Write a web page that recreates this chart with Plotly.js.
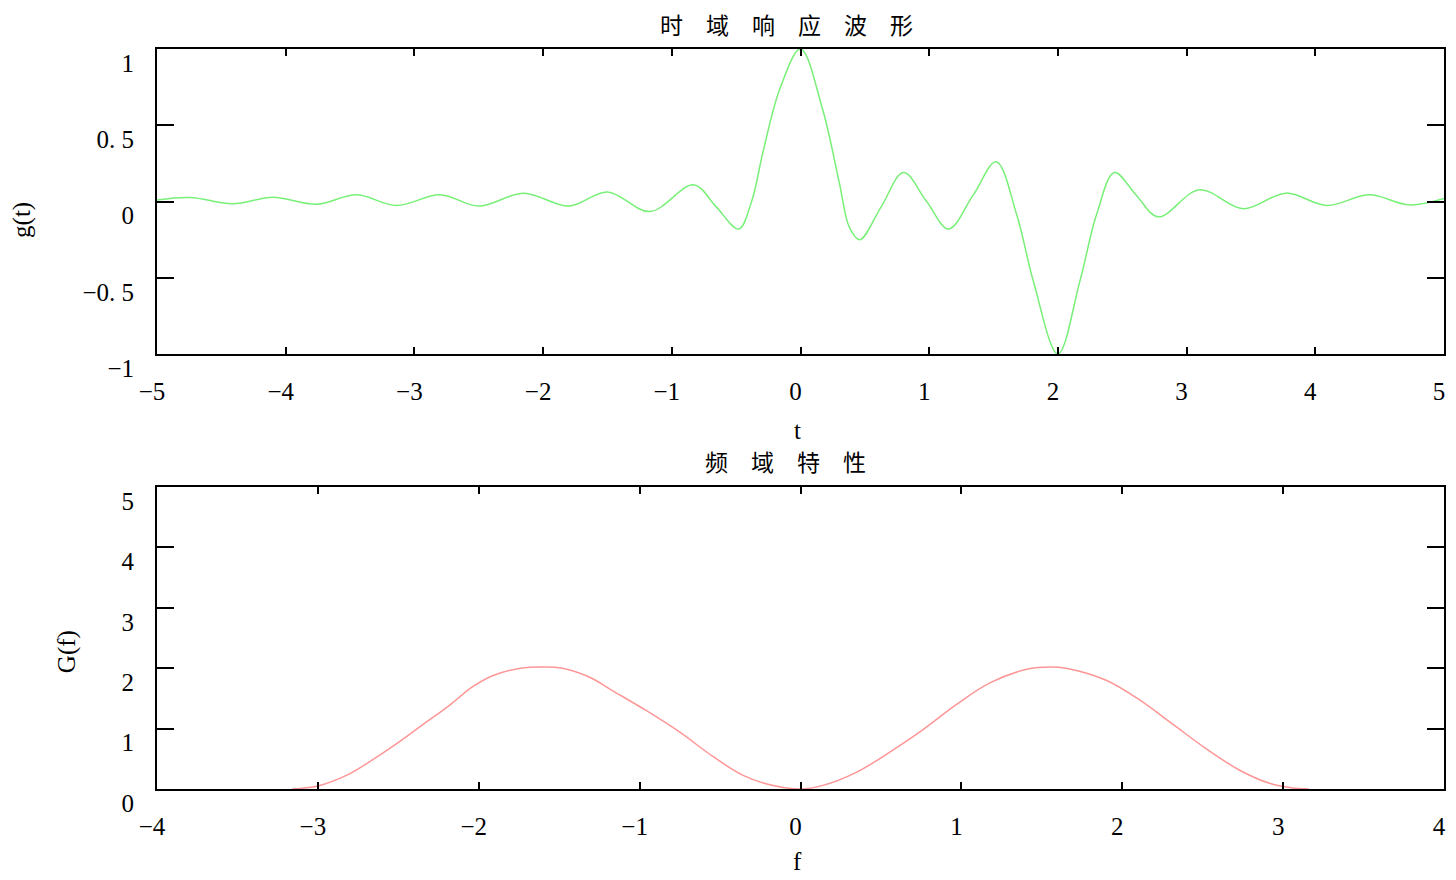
<!DOCTYPE html>
<html>
<head>
<meta charset="utf-8">
<script src="https://cdn.plot.ly/plotly-3.0.1.min.js"></script>
<style>html,body{margin:0;padding:0;background:#fff;}#chart{width:1456px;height:880px;}</style>
</head>
<body>
<div id="chart"></div>
<script>
// ---- time-domain response ----
const tVals = [-5.00,-4.74,-4.41,-4.10,-3.76,-3.45,-3.14,-2.80,-2.50,-2.15,-1.80,-1.50,-1.17,-0.83,-0.66,-0.48,-0.38,-0.29,-0.16,0.00,0.17,0.30,0.38,0.46,0.63,0.80,0.98,1.15,1.34,1.52,1.68,1.81,2.00,2.17,2.30,2.44,2.61,2.78,3.10,3.44,3.77,4.09,4.42,4.73,5.00];
const gVals = [0.01,0.026,-0.015,0.028,-0.018,0.044,-0.026,0.044,-0.030,0.055,-0.030,0.063,-0.066,0.11,-0.03,-0.18,0.00,0.33,0.74,1.00,0.61,0.13,-0.17,-0.25,-0.03,0.19,0.00,-0.18,0.04,0.26,-0.087,-0.525,-1.00,-0.525,-0.087,0.19,0.04,-0.10,0.077,-0.048,0.055,-0.026,0.044,-0.022,0.02];

// ---- frequency characteristic ----
const fVals = [-3.16,-3.00,-2.82,-2.68,-2.51,-2.35,-2.18,-2.04,-1.91,-1.74,-1.60,-1.48,-1.31,-1.17,-0.96,-0.75,-0.54,-0.36,-0.19,0.00,0.14,0.35,0.56,0.76,0.97,1.18,1.42,1.55,1.65,1.90,2.11,2.32,2.52,2.73,2.92,3.05,3.16];
const GVals = [0.00,0.05,0.23,0.45,0.75,1.06,1.39,1.69,1.88,2.00,2.02,2.00,1.85,1.63,1.30,0.94,0.53,0.23,0.07,0.00,0.06,0.28,0.62,0.98,1.40,1.76,1.99,2.02,2.00,1.80,1.47,1.06,0.67,0.31,0.09,0.02,0.00];

// ---- tick labels ----
const xTopTicks = [-5,-4,-3,-2,-1,0,1,2,3,4,5];
const xTopText  = ['−5','−4','−3','−2','−1','0','1','2','3','4','5'];
const yTopTicks = [-1,-0.5,0,0.5,1];
const yTopText  = ['−1','−0. 5','0','0. 5','1'];
const xBotTicks = [-4,-3,-2,-1,0,1,2,3,4];
const xBotText  = ['−4','−3','−2','−1','0','1','2','3','4'];
const yBotTicks = [0,1,2,3,4,5];
const yBotText  = ['0','1','2','3','4','5'];

const titleTop = '时　域　响　应　波　形';
const titleBot = '频　域　特　性';

const serif = 'Liberation Serif, DejaVu Serif, serif';
const cjk = 'Noto Sans CJK SC, sans-serif';
const tickFont = {family: serif, size: 25, color: '#000'};

function xAxis(vals, text, range, anchor) {
  return {
    range: range, anchor: anchor, tickmode: 'array', tickvals: vals, ticktext: text,
    showline: true, linecolor: '#000', linewidth: 2, mirror: 'ticks',
    ticks: 'inside', ticklen: 7, tickwidth: 2, tickcolor: '#000',
    showgrid: false, zeroline: false, tickfont: tickFont,
    ticklabelstandoff: 14, ticklabelshift: -5, fixedrange: true
  };
}
function yAxis(vals, text, range, domain, anchor) {
  return {
    range: range, domain: domain, anchor: anchor, tickmode: 'array', tickvals: vals, ticktext: text,
    showline: true, linecolor: '#000', linewidth: 2, mirror: 'ticks',
    ticks: 'inside', ticklen: 17, tickwidth: 2, tickcolor: '#000',
    showgrid: false, zeroline: false, tickfont: tickFont,
    ticklabelstandoff: 16, ticklabelshift: 14, fixedrange: true
  };
}

const traces = [
  {x: tVals, y: gVals, type: 'scatter', mode: 'lines', xaxis: 'x', yaxis: 'y',
   line: {color: 'rgb(120,240,120)', width: 1.5, shape: 'spline', smoothing: 1}},
  {x: fVals, y: GVals, type: 'scatter', mode: 'lines', xaxis: 'x2', yaxis: 'y2',
   line: {color: 'rgb(255,150,150)', width: 1.5, shape: 'spline', smoothing: 1}}
];

const layout = {
  width: 1456, height: 880,
  margin: {l: 157, r: 12, t: 49, b: 91},
  paper_bgcolor: '#fff', plot_bgcolor: '#fff',
  showlegend: false,
  xaxis: xAxis(xTopTicks, xTopText, [-5, 5], 'y'),
  yaxis: yAxis(yTopTicks, yTopText, [-1, 1], [0.5878, 1], 'x'),
  xaxis2: xAxis(xBotTicks, xBotText, [-4, 4], 'y2'),
  yaxis2: yAxis(yBotTicks, yBotText, [0, 5], [0, 0.4081], 'x2'),
  annotations: [
    {text: titleTop, xref: 'paper', yref: 'paper', x: 0.4895, y: 1.0338, xanchor: 'center', yanchor: 'middle', showarrow: false, font: {family: cjk, size: 23, color: '#000'}},
    {text: titleBot, xref: 'paper', yref: 'paper', x: 0.4887, y: 0.4432, xanchor: 'center', yanchor: 'middle', showarrow: false, font: {family: cjk, size: 23, color: '#000'}},
    {text: 't', xref: 'paper', yref: 'paper', x: 0.4973, y: 0.4851, xanchor: 'center', yanchor: 'middle', showarrow: false, font: {family: serif, size: 25, color: '#000'}},
    {text: 'f', xref: 'paper', yref: 'paper', x: 0.4973, y: -0.0986, xanchor: 'center', yanchor: 'middle', showarrow: false, font: {family: serif, size: 25, color: '#000'}},
    {text: 'g(t)', xref: 'paper', yref: 'paper', x: -0.1049, y: 0.769, xanchor: 'center', yanchor: 'middle', textangle: -90, showarrow: false, font: {family: serif, size: 25, color: '#000'}},
    {text: 'G(f)', xref: 'paper', yref: 'paper', x: -0.0699, y: 0.185, xanchor: 'center', yanchor: 'middle', textangle: -90, showarrow: false, font: {family: serif, size: 25, color: '#000'}}
  ]
};

Plotly.newPlot('chart', traces, layout, {staticPlot: true, displayModeBar: false});
</script>
</body>
</html>
